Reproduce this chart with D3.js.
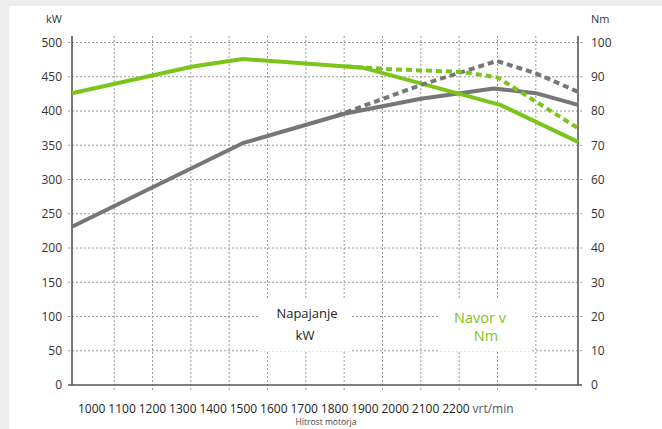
<!DOCTYPE html>
<html><head><meta charset="utf-8">
<script src="https://cdn.jsdelivr.net/npm/d3@7"></script>
<style>
html,body{margin:0;padding:0;background:#ededed;}
svg{display:block;font-family:"Open Sans",sans-serif;}
</style></head>
<body>
<svg id="chart" width="662" height="429"></svg>
<script>
// ---- data ----
const xTickLabels = ["1000","1100","1200","1300","1400","1500","1600","1700","1800","1900","2000","2100","2200","vrt/min"];
const gridRpm = [1100,1200,1300,1400,1500,1600,1700,1800,1900,2000,2100,2200];
const kwTicks = [0,50,100,150,200,250,300,350,400,450,500];
const nmTicks = [0,10,20,30,40,50,60,70,80,90,100];

const powerRpm = [990, 1435, 1700, 1900, 2090, 2200, 2310];
const powerKW  = [231, 353, 396, 418, 433, 426, 409];
const powerAltRpm = [1680, 1900, 2098, 2200, 2310];
const powerAltKW  = [393, 438, 473, 455, 428];
const torqueRpm = [990, 1305, 1435, 1750, 2107, 2310];
const torqueNm  = [85.2, 93, 95.2, 92.6, 81.8, 71];
const torqueAltRpm = [1705, 1820, 2010, 2100, 2310];
const torqueAltNm  = [93, 92.2, 91.4, 89.8, 75];

const GREEN = "#7cc41c", GRAY = "#767676";

const svg = d3.select("#chart");
svg.append("rect").attr("x",9).attr("y",6).attr("width",653).attr("height",423).attr("fill","#fff");

const x = d3.scaleLinear().domain([990,2310]).range([72,578]);
const yL = d3.scaleLinear().domain([0,500]).range([385,42.5]);
const yR = d3.scaleLinear().domain([0,100]).range([385,42.5]);
const axTop = 36;

const g = svg.append("g");
// horizontal grid
g.selectAll("line.h").data(kwTicks.filter(d=>d>0)).join("line")
  .attr("x1",68).attr("x2",582).attr("y1",d=>yL(d)).attr("y2",d=>yL(d))
  .attr("stroke","#9a9a9a").attr("stroke-width",1).attr("stroke-dasharray","2,2");
// vertical grid
g.selectAll("line.v").data(gridRpm).join("line")
  .attr("x1",d=>x(d)).attr("x2",d=>x(d)).attr("y1",axTop).attr("y2",390)
  .attr("stroke","#9a9a9a").attr("stroke-width",1).attr("stroke-dasharray","2,2");

// legend background boxes
svg.append("rect").attr("x",258).attr("y",299).attr("width",94).attr("height",52).attr("fill","#fff");
svg.append("rect").attr("x",439).attr("y",299).attr("width",92).attr("height",52).attr("fill","#fff");

// axes lines
const axC = "#555";
svg.append("line").attr("x1",x(990)).attr("x2",x(990)).attr("y1",axTop).attr("y2",385).attr("stroke",axC).attr("stroke-width",1.6);
svg.append("line").attr("x1",x(2310)).attr("x2",x(2310)).attr("y1",axTop).attr("y2",385).attr("stroke",axC).attr("stroke-width",1.6);
svg.append("line").attr("x1",68).attr("x2",582).attr("y1",385).attr("y2",385).attr("stroke",axC).attr("stroke-width",1.6);

// tick labels
svg.selectAll("text.yl").data(kwTicks).join("text")
  .attr("x",62).attr("y",d=>yL(d)+4.3).attr("text-anchor","end")
  .attr("font-size",12).attr("fill","#333").text(d=>d);
svg.selectAll("text.yr").data(nmTicks).join("text")
  .attr("x",591).attr("y",d=>yR(d)+4.3).attr("text-anchor","start")
  .attr("font-size",12).attr("fill","#333").text(d=>d);
svg.append("text").attr("x",62).attr("y",23).attr("text-anchor","end").attr("font-size",11).attr("fill","#333").text("kW");
svg.append("text").attr("x",591).attr("y",23).attr("font-size",11).attr("fill","#333").text("Nm");

const xl = d3.scalePoint().domain(xTickLabels).range([78, 78+13*30.35]);
svg.selectAll("text.xl").data(xTickLabels).join("text")
  .attr("x",d=>xl(d)).attr("y",413).attr("font-size",12)
  .attr("fill",d=>d==="vrt/min"?"#555":"#222").text(d=>d);
svg.append("text").attr("x",326).attr("y",425).attr("text-anchor","middle").attr("font-size",8.5).attr("fill","#444").text("Hitrost motorja");

// legend text
svg.append("text").attr("x",307).attr("y",318).attr("text-anchor","middle").attr("font-size",13).attr("fill","#222").text("Napajanje");
svg.append("text").attr("x",305).attr("y",340).attr("text-anchor","middle").attr("font-size",13).attr("fill","#222").text("kW");
svg.append("text").attr("x",480).attr("y",323).attr("text-anchor","middle").attr("font-size",14.5).attr("fill",GREEN).text("Navor v");
svg.append("text").attr("x",486).attr("y",341).attr("text-anchor","middle").attr("font-size",14.5).attr("fill",GREEN).text("Nm");

// lines
function draw(xs, ys, yScale, color, dashed){
  const pts = xs.map((d,i)=>[d, ys[i]]);
  svg.append("path").datum(pts)
    .attr("d", d3.line().x(d=>x(d[0])).y(d=>yScale(d[1])))
    .attr("fill","none").attr("stroke",color).attr("stroke-width",4)
    .attr("stroke-linejoin","round")
    .attr("stroke-dasharray", dashed ? "6,4" : null);
}
draw(powerRpm, powerKW, yL, GRAY, false);
draw(torqueRpm, torqueNm, yR, GREEN, false);
draw(powerAltRpm, powerAltKW, yL, GRAY, true);
draw(torqueAltRpm, torqueAltNm, yR, GREEN, true);
</script>
</body></html>
